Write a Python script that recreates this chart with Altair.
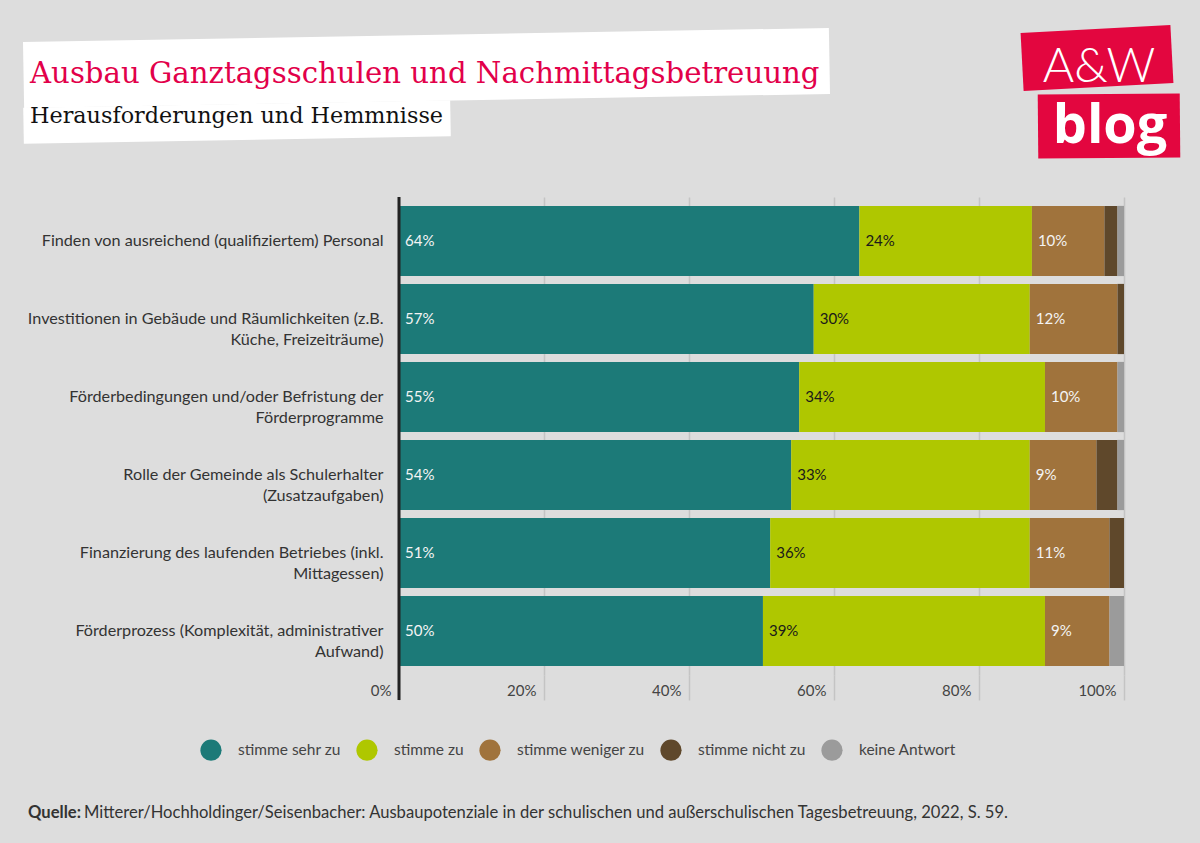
import altair as alt
import pandas as pd

categories = [
    "Finden von ausreichend (qualifiziertem) Personal",
    "Investitionen in Gebäude und Räumlichkeiten (z.B.\nKüche, Freizeiträume)",
    "Förderbedingungen und/oder Befristung der\nFörderprogramme",
    "Rolle der Gemeinde als Schulerhalter\n(Zusatzaufgaben)",
    "Finanzierung des laufenden Betriebes (inkl.\nMittagessen)",
    "Förderprozess (Komplexität, administrativer\nAufwand)",
]
responses = ["stimme sehr zu", "stimme zu", "stimme weniger zu", "stimme nicht zu", "keine Antwort"]
colors = ["#1c7a78", "#afc700", "#a0733c", "#5f482b", "#9b9b9b"]

sehr_zu = [63.5, 57.2, 55.2, 54.1, 51.2, 50.2]
zu = [23.8, 29.8, 33.9, 32.9, 35.8, 38.9]
weniger_zu = [10.0, 12.1, 10.0, 9.2, 11.0, 8.9]
nicht_zu = [1.8, 0.9, 0.0, 2.9, 2.0, 0.0]
keine_antwort = [0.9, 0.0, 0.9, 0.9, 0.0, 2.0]

series = [sehr_zu, zu, weniger_zu, nicht_zu, keine_antwort]
rows = []
for ci, cat in enumerate(categories):
    start = 0.0
    for ri, resp in enumerate(responses):
        v = series[ri][ci]
        rows.append({
            "cat": cat, "resp": resp, "ri": ri, "value": v,
            "start": start, "end": start + v,
            "label": f"{int(v + 0.5)}%" if v >= 5 else "",
        })
        start += v
df = pd.DataFrame(rows)
one = pd.DataFrame({"k": [0]})

FONT = "Lato"
RED = "#e2004a"
LOGO_RED = "#e3063f"
W, H = 725, 478
OX, OY = 399, 197  # plot origin in page pixels

bars = alt.Chart(df).mark_bar().encode(
    x=alt.X("start:Q", scale=alt.Scale(domain=[0, 100], nice=False),
            axis=alt.Axis(values=[0, 20, 40, 60, 80, 100], labelExpr="datum.value + '%'",
                          title=None, domain=False, grid=True, gridColor="#c4c4c4", gridWidth=1.5,
                          ticks=True, tickColor="#c4c4c4", tickWidth=1.5, tickSize=25,
                          labelAlign="right", labelOffset=-8, labelPadding=-17,
                          labelFont=FONT, labelFontSize=15, labelColor="#444")),
    x2="end:Q",
    y=alt.Y("cat:N", sort=categories,
            scale=alt.Scale(paddingInner=0.1, paddingOuter=0.114),
            axis=alt.Axis(title=None, ticks=False, domain=False, grid=False, labelPadding=16,
                          labelExpr="split(datum.label, '\\n')", labelLineHeight=21,
                          labelFont=FONT, labelFontSize=16.2, labelColor="#333", labelLimit=420)),
    color=alt.Color("resp:N", sort=responses, scale=alt.Scale(domain=responses, range=colors),
                    legend=alt.Legend(orient="none", legendX=-199, legendY=542, direction="horizontal",
                                      title=None, symbolType="circle", symbolSize=450,
                                      symbolStrokeWidth=0, symbolOpacity=1, labelFont=FONT,
                                      labelFontSize=15.5, labelColor="#444", labelOffset=16,
                                      columnPadding=15)),
)

labels = alt.Chart(df).transform_filter("datum.value >= 5").mark_text(
    align="left", baseline="middle", dx=6, font=FONT, fontSize=15
).encode(
    x="start:Q",
    y=alt.Y("cat:N", sort=categories),
    text="label:N",
    color=alt.condition("datum.resp == 'stimme zu'", alt.value("#1a1a1a"), alt.value("#f4f4f4")),
)

zero_rule = alt.Chart(one).mark_rule(color="#222", strokeWidth=3).encode(
    x=alt.value(0), y=alt.value(0), y2=alt.value(H + 25))


def box(cx, cy, w, h, angle, color):
    """A slightly tilted rectangle drawn as a custom symbol (decoration)."""
    r = h / w
    path = f"M-1,{-r}L1,{-r}L1,{r}L-1,{r}Z"
    return alt.Chart(one).mark_point(
        shape=path, size=w * w, angle=angle, filled=True, fill=color,
        opacity=1, strokeWidth=0
    ).encode(x=alt.value(cx - OX), y=alt.value(cy - OY))


def text(s, x, y, **kw):
    return alt.Chart(one).mark_text(text=s, **kw).encode(x=alt.value(x - OX), y=alt.value(y - OY))


deco = [
    box(426.5, 68, 806, 66, 359, "white"),
    box(237, 122, 427, 36, 359, "white"),
    text("Ausbau Ganztagsschulen und Nachmittagsbetreuung", 30, 83, align="left",
         baseline="alphabetic", font="DejaVu Serif", fontSize=29.2, color=RED),
    text("Herausforderungen und Hemmnisse", 30, 123, align="left",
         baseline="alphabetic", font="DejaVu Serif", fontSize=22.3, color="#111"),
    box(1097, 58, 150, 58, 357, LOGO_RED),
    box(1109, 126, 142, 64, 359.5, LOGO_RED),
    text("A&W", 1099, 82, align="center", baseline="alphabetic", font=FONT,
         fontWeight=300, fontSize=48, color="white"),
    text("blog", 1110, 143, align="center", baseline="alphabetic", font="Open Sans",
         fontWeight="bold", fontSize=54, color="white"),
    text("Quelle:", 28, 818, align="left", baseline="alphabetic", font=FONT,
         fontWeight="bold", fontSize=16.6, color="#333"),
    text("Mitterer/Hochholdinger/Seisenbacher: Ausbaupotenziale in der schulischen und außerschulischen Tagesbetreuung, 2022, S. 59.",
         84, 818, align="left", baseline="alphabetic", font=FONT,
         fontSize=16.6, color="#333"),
]

chart = alt.layer(*deco, bars, labels, zero_rule).properties(
    width=W, height=H,
    autosize=alt.AutoSizeParams(type="none"),
    padding={"left": OX, "top": OY, "right": 1200 - OX - W, "bottom": 843 - OY - H},
    background="#dddddd",
).configure_view(stroke=None)

chart.save("out.html", embed_options={"renderer": "svg", "actions": False})
